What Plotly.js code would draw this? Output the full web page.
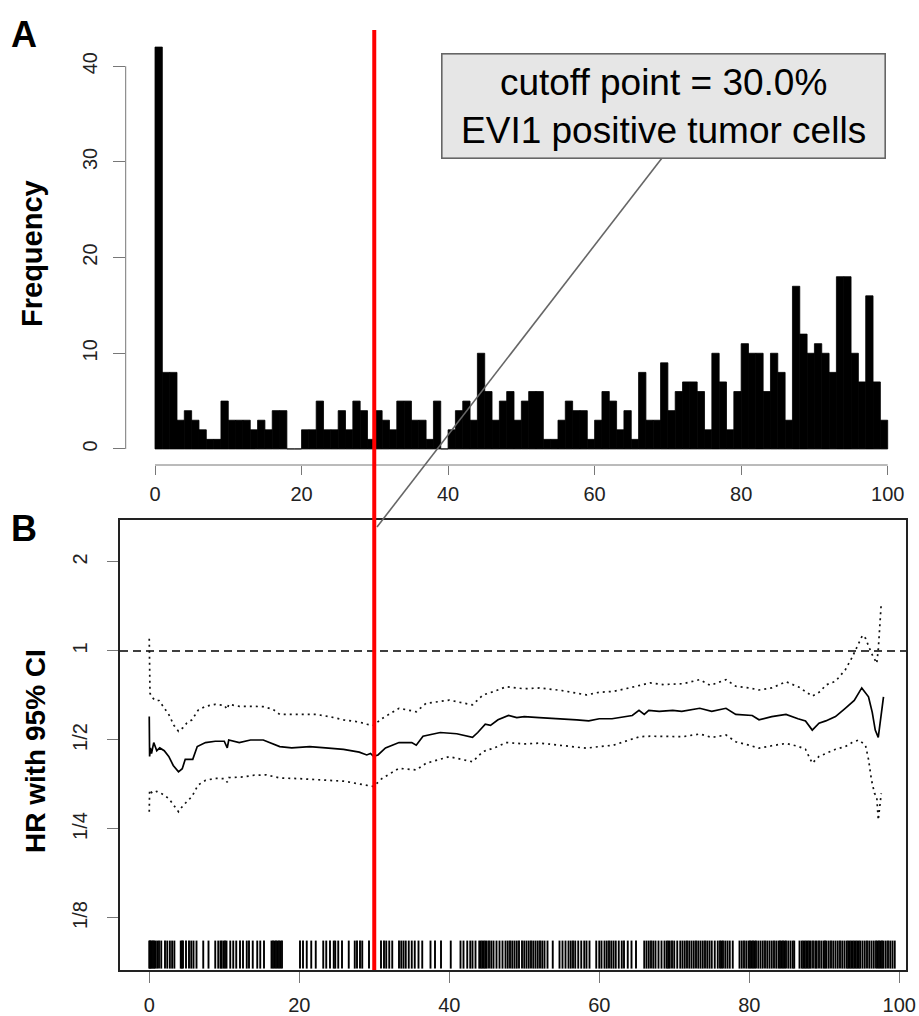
<!DOCTYPE html>
<html><head><meta charset="utf-8">
<script src="https://cdn.plot.ly/plotly-3.0.1.min.js"></script>
<style>html,body{margin:0;padding:0;background:#fff}#chart{width:919px;height:1016px}</style>
</head><body><div id="chart"></div>
<script>
// ---------- DATA ----------
// Panel A: histogram counts, bins of width 1 from 0 to 100 (% EVI1 positive tumor cells)
const histCounts = [42,8,8,3,4,3,2,1,1,5, 3,3,3,2,3,2,4,4,0,0,
  2,2,5,2,2,4,2,5,4,1, 4,3,2,5,5,3,3,1,5,0,
  2,4,5,3,10,6,3,5,6,3, 5,6,6,1,1,3,5,4,4,1,
  3,6,5,2,4,1,8,3,3,9, 4,6,7,7,6,2,10,7,2,6,
  11,10,10,6,10,8,3,17,12,10, 11,10,8,18,18,10,7,16,7,3];
const binStart = 0;
const binWidth = 1;
const cutoff = 30;
const histXTicks = [0,20,40,60,80,100];
const freqTicks = [0,10,20,30,40];

// Panel B: HR with 95% CI by cutoff
const hrX = [0,0.05,0.15,0.3,0.6,1.0,1.4,2.0,2.6,3.2,3.9,4.4,4.8,5.8,6.4,7.5,8.8,10.0,10.4,10.6,12,13.5,15.2,16,17.4,19,21.4,23.5,25.9,28,29,29.5,29.9,30.5,31.5,33.3,35,35.6,36.5,38.8,41,43.1,43.8,44.8,45.5,46.5,47.9,49,50,52,55.5,57,58.6,60,61.7,64.4,65.3,66,66.6,68,69.8,71,73.4,75,76.9,78.2,80.4,81.3,83,84.9,86.5,87.5,88.4,89.3,90.2,91.5,92.8,94,95.0,95.5,95.9,96.4,96.8,97.2,97.5,97.9];
const hrY = [0.60,0.44,0.47,0.45,0.49,0.46,0.47,0.46,0.44,0.41,0.39,0.40,0.43,0.43,0.475,0.49,0.495,0.495,0.47,0.50,0.49,0.50,0.50,0.49,0.475,0.47,0.475,0.47,0.465,0.455,0.445,0.45,0.44,0.445,0.47,0.49,0.49,0.48,0.515,0.53,0.525,0.51,0.53,0.565,0.56,0.585,0.605,0.595,0.60,0.595,0.59,0.585,0.58,0.59,0.59,0.605,0.63,0.61,0.63,0.625,0.63,0.625,0.64,0.625,0.64,0.61,0.605,0.585,0.60,0.61,0.59,0.58,0.54,0.57,0.58,0.60,0.64,0.68,0.75,0.72,0.70,0.62,0.54,0.51,0.58,0.70];
const upX = [0,0.05,0.1,0.3,0.8,1.3,2.0,2.6,3.3,3.9,4.5,5.0,5.7,6.5,7.5,8.8,10.0,10.4,10.6,12,13.5,15.2,16.5,17.4,20,22.3,24,25.9,28,29,29.9,31,33.3,35.6,36.9,40.0,43.1,44.5,46,47.6,50,52.1,55,58.3,60,61.9,64,65.4,66.8,68.5,71.2,73.4,74.8,76.9,78.2,80,81.3,83,84.9,86.6,88.4,89.5,90.2,91.5,92.8,93.7,94.6,95.1,95.5,96.3,97.0,97.2,97.6];
const upY = [1.10,0.85,0.72,0.70,0.68,0.68,0.64,0.61,0.56,0.535,0.55,0.57,0.585,0.63,0.65,0.66,0.655,0.635,0.66,0.65,0.65,0.648,0.635,0.61,0.61,0.61,0.60,0.585,0.575,0.565,0.56,0.59,0.64,0.623,0.665,0.682,0.657,0.71,0.73,0.757,0.745,0.75,0.735,0.71,0.725,0.73,0.75,0.767,0.78,0.77,0.775,0.80,0.765,0.80,0.76,0.75,0.738,0.75,0.787,0.755,0.704,0.73,0.767,0.79,0.863,0.95,1.061,1.13,1.104,0.982,0.908,1.008,1.45];
const loX = [0,0.05,0.4,1.0,1.6,2.6,3.3,3.9,4.5,5.7,6.5,7.5,8.8,10.0,10.4,10.6,12.5,14,15.6,17.4,20,22.3,24,25.9,28,29,29.9,31,33.3,35.6,36.9,40.0,43.1,44.5,46,47.6,50,52.1,55,58.3,60,61.9,64,65.4,66.8,71.2,73.4,75,76.9,78.2,80,81.3,83,84.9,86.6,87.5,88.4,89.3,90.2,91.5,92.8,93.7,94.6,95.5,95.9,96.3,96.7,97.0,97.2,97.4,97.6];
const loY = [0.286,0.339,0.33,0.335,0.33,0.317,0.30,0.286,0.30,0.322,0.352,0.365,0.371,0.37,0.36,0.373,0.375,0.38,0.381,0.372,0.37,0.366,0.365,0.363,0.355,0.35,0.348,0.37,0.401,0.396,0.417,0.439,0.422,0.457,0.47,0.49,0.485,0.488,0.48,0.469,0.475,0.48,0.50,0.513,0.515,0.513,0.524,0.51,0.52,0.493,0.48,0.469,0.478,0.487,0.475,0.465,0.417,0.44,0.45,0.465,0.475,0.49,0.50,0.48,0.43,0.366,0.33,0.322,0.268,0.30,0.33];
const refHR = 1;
const rugX = [0,0.1,0.2,0.35,0.5,0.65,0.8,1.05,1.3,1.6,2.1,2.4,2.75,3.05,3.35,
  4.2,4.35,4.5,4.9,5.3,5.6,5.9,6.3,7.2,7.9,
  8.8,9.2,9.5,9.65,9.9,10.1,10.3,10.8,11.2,11.6,12.1,12.5,13.0,13.3,13.8,14.4,14.8,15.3,
  16.3,16.5,16.7,16.9,17.1,17.3,17.5,17.7,
  20.1,20.5,21.0,21.6,22.2,23.2,23.6,24.1,24.6,24.8,25.2,25.7,26.6,27.4,27.7,28.1,28.4,29.3,
  30.9,31.3,31.6,32.0,32.4,33.3,33.6,33.9,34.2,34.6,35.0,35.4,35.9,36.4,37.5,38.1,38.9,40.2,
  41.5,41.9,42.4,42.8,43.1,43.5,44.0,44.2,44.4,44.6,44.8,45.0,45.3,45.6,45.9,46.3,46.7,47.1,
  47.5,47.8,48.1,48.4,48.7,49.0,49.3,49.7,50.0,50.3,50.6,50.9,51.2,51.5,51.8,52.1,52.4,52.7,53.1,53.8,
  54.7,55.1,55.5,55.9,56.2,56.5,56.8,57.2,57.6,58.0,58.3,58.7,
  59.6,60.0,60.3,60.7,61.0,61.3,61.6,61.9,62.2,62.6,63.0,63.3,63.8,64.3,64.9,
  66.0,66.3,66.6,66.9,67.2,67.5,67.9,68.3,68.7,69.0,69.2,69.4,69.7,70.0,70.4,70.8,71.1,71.4,71.7,72.0,
  72.3,72.6,72.9,73.2,73.5,73.8,74.1,74.4,74.7,75.0,75.4,75.8,76.1,76.3,76.5,76.8,77.1,77.4,77.8,
  78.7,79.0,79.3,79.6,79.9,80.1,80.3,80.5,80.7,80.9,81.2,81.5,81.8,82.1,82.4,82.7,83.0,83.3,83.6,83.9,
  84.1,84.3,84.5,84.7,84.9,85.2,85.5,85.8,86.0,
  86.7,87.0,87.2,87.4,87.6,87.8,88.0,88.2,88.5,88.8,89.0,89.3,89.6,89.9,90.1,90.3,90.6,90.9,91.2,91.5,
  91.8,92.1,92.4,92.7,93.0,93.2,93.4,93.6,93.8,94.0,94.2,94.4,94.6,94.8,95.1,95.4,95.7,96.0,96.3,96.6,
  96.9,97.1,97.3,97.5,97.7,97.9,98.2,98.5,98.8,99.1,99.4];
const rugLevel = 0.094;
const hrTickVals = [0.125,0.25,0.5,1,2];
const hrTickText = ["1/8","1/4","1/2","1","2"];
const hrXTicks = [0,20,40,60,80,100];

// ---------- GEOMETRY HELPERS ----------
const W = 919, H = 1016;
const px = p => p / W;
const py = p => 1 - p / H;
const FONT = '"Liberation Sans", Arial, Helvetica, sans-serif';
const TICKFONT = {family: FONT, size: 20, color: '#222'};

const histX = histCounts.map((_, i) => binStart + binWidth * (i + 0.5));

const traces = [
  {type: 'bar', x: histX, y: histCounts, width: binWidth, xaxis: 'x', yaxis: 'y',
   marker: {color: '#000', line: {color: '#000', width: 0.8}}, hoverinfo: 'x+y'},
  {type: 'scatter', mode: 'lines', x: [-3.9, 100.9], y: [refHR, refHR], xaxis: 'x2', yaxis: 'y2',
   line: {color: '#000', width: 1.3, dash: '8px,5px'}, hoverinfo: 'skip'},
  {type: 'scatter', mode: 'lines', x: upX, y: upY, xaxis: 'x2', yaxis: 'y2',
   line: {color: '#111', width: 1.7, dash: '2px,4px'}},
  {type: 'scatter', mode: 'lines', x: loX, y: loY, xaxis: 'x2', yaxis: 'y2',
   line: {color: '#111', width: 1.7, dash: '2px,4px'}},
  {type: 'scatter', mode: 'lines', x: hrX, y: hrY, xaxis: 'x2', yaxis: 'y2',
   line: {color: '#000', width: 1.7}},
  {type: 'scatter', mode: 'markers', x: rugX, y: rugX.map(() => rugLevel), xaxis: 'x2', yaxis: 'y2',
   marker: {symbol: 'line-ns-open', size: 20, color: '#000', line: {color: '#000', width: 1.9}}, hoverinfo: 'x'}
];

const layout = {
  width: W, height: H,
  margin: {l: 0, r: 0, t: 0, b: 0},
  paper_bgcolor: '#fff', plot_bgcolor: 'rgba(0,0,0,0)',
  showlegend: false,
  font: {family: FONT, color: '#000'},
  bargap: 0,
  xaxis: {
    domain: [px(125.7), px(917)], range: [-4, 104], anchor: 'y',
    tickvals: histXTicks, ticks: 'outside', ticklen: 9, tickwidth: 1, tickcolor: '#777',
    showline: false, zeroline: false, showgrid: false, tickfont: TICKFONT, ticklabelstandoff: 2
  },
  yaxis: {
    domain: [py(465), py(31)], range: [-1.68, 43.68], anchor: 'x',
    tickvals: freqTicks, ticks: 'outside', ticklen: 12, tickwidth: 1, tickcolor: '#777',
    tickangle: -90, showline: false, zeroline: false, showgrid: false, tickfont: TICKFONT,
    ticklabelstandoff: 8
  },
  xaxis2: {
    domain: [px(120), px(906)], range: [-3.9, 100.9], anchor: 'y2',
    tickvals: hrXTicks, ticks: 'outside', ticklen: 11, tickwidth: 1, tickcolor: '#777',
    showline: true, mirror: true, linecolor: '#222', linewidth: 1.6,
    zeroline: false, showgrid: false, tickfont: TICKFONT, ticklabelstandoff: 5
  },
  yaxis2: {
    type: 'log', domain: [py(970), py(520)], range: [-1.079, 0.443], anchor: 'x2',
    tickvals: hrTickVals, ticktext: hrTickText, ticks: 'outside', ticklen: 11, tickwidth: 1,
    tickcolor: '#777', tickangle: -90,
    showline: true, mirror: true, linecolor: '#222', linewidth: 1.6,
    zeroline: false, showgrid: false, tickfont: TICKFONT, ticklabelstandoff: 12
  },
  shapes: [
    // R-style axis lines for the histogram (span first to last tick only)
    {type: 'line', xref: 'x', yref: 'paper', x0: histXTicks[0], x1: histXTicks[histXTicks.length - 1],
     y0: py(465), y1: py(465), line: {color: '#777', width: 1}},
    {type: 'line', xref: 'paper', yref: 'y', x0: px(125.7), x1: px(125.7),
     y0: freqTicks[0], y1: freqTicks[freqTicks.length - 1], line: {color: '#777', width: 1}},
    // connector from label box to cutoff line
    {type: 'line', xref: 'paper', yref: 'paper', x0: px(377), y0: py(527), x1: px(662), y1: py(158),
     line: {color: '#666', width: 1.6}},
    // cutoff line spanning both panels
    {type: 'line', xref: 'x2', yref: 'paper', x0: cutoff, x1: cutoff, y0: py(970), y1: py(30),
     line: {color: '#ff0000', width: 4}, layer: 'above'}
  ],
  annotations: [
    {text: '<b>A</b>', xref: 'paper', yref: 'paper', x: px(24), y: py(34), xanchor: 'center', yanchor: 'middle',
     showarrow: false, font: {family: FONT, size: 36, color: '#000'}},
    {text: '<b>B</b>', xref: 'paper', yref: 'paper', x: px(24), y: py(528), xanchor: 'center', yanchor: 'middle',
     showarrow: false, font: {family: FONT, size: 36, color: '#000'}},
    {text: '<b>Frequency</b>', xref: 'paper', yref: 'paper', x: px(32), y: py(254), xanchor: 'center', yanchor: 'middle',
     textangle: -90, showarrow: false, font: {family: FONT, size: 29, color: '#000'}},
    {text: '<b>HR with 95% CI</b>', xref: 'paper', yref: 'paper', x: px(35), y: py(751), xanchor: 'center', yanchor: 'middle',
     textangle: -90, showarrow: false, font: {family: FONT, size: 28, color: '#000'}},
    {text: 'cutoff point = ' + cutoff.toFixed(1) + '%<br>EVI1 positive tumor cells',
     xref: 'paper', yref: 'paper', x: px(663), y: py(105.5), xanchor: 'center', yanchor: 'middle',
     width: 442, height: 103, align: 'center', valign: 'middle',
     bgcolor: '#e6e6e6', bordercolor: '#666', borderwidth: 1.6, borderpad: 0,
     showarrow: false, font: {family: FONT, size: 37, color: '#000'}}
  ]
};

Plotly.newPlot('chart', traces, layout, {displayModeBar: false, staticPlot: true});
</script>
</body></html>
